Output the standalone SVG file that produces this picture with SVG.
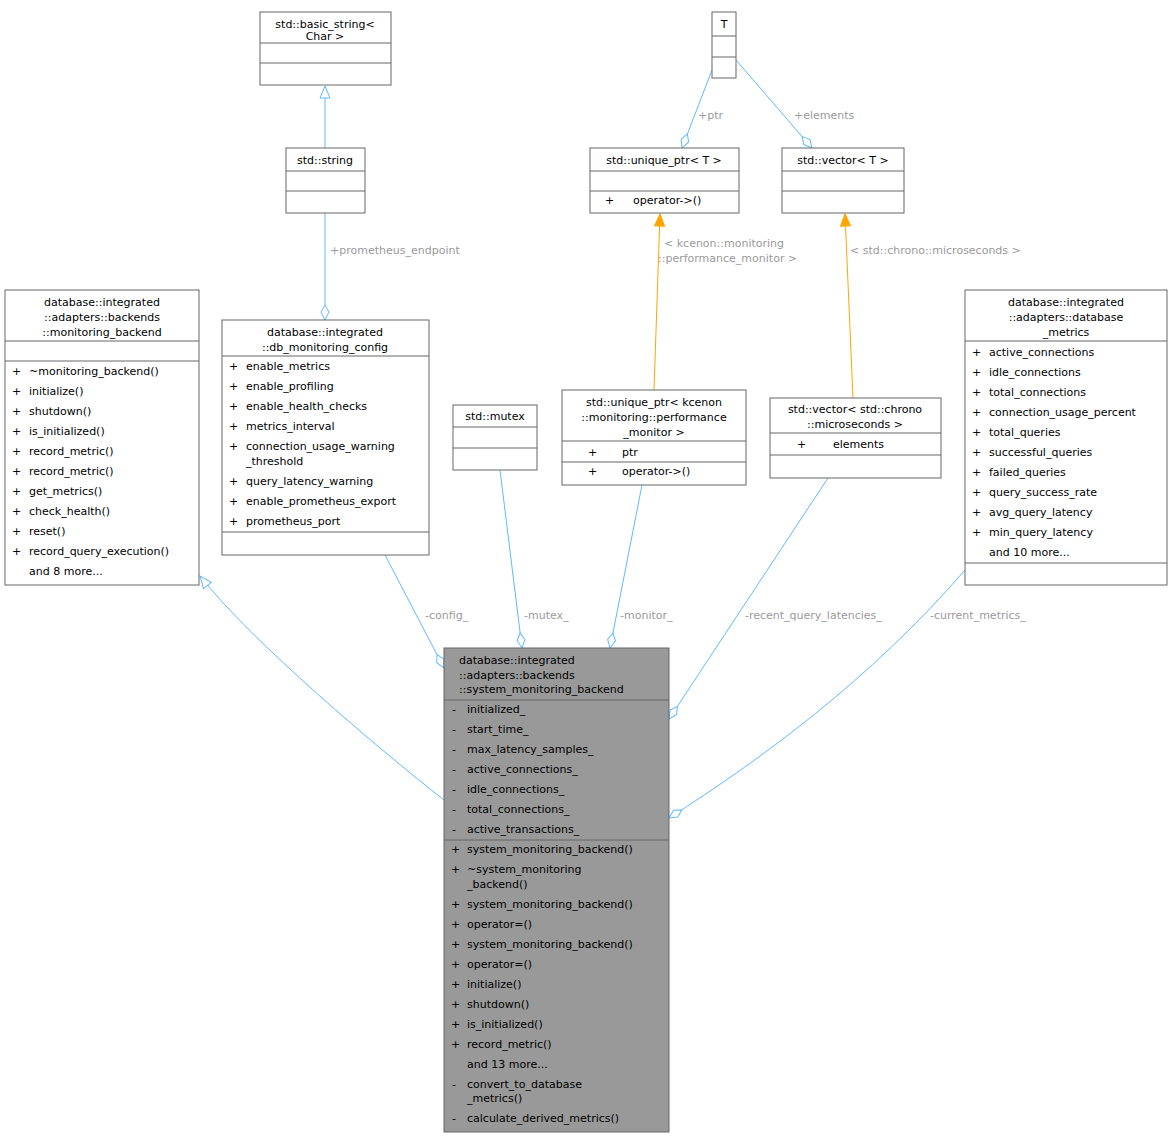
<svg xmlns="http://www.w3.org/2000/svg" width="1172" height="1137" viewBox="0 0 1172 1137">
<defs>
<style>
text{font-family:"DejaVu Sans","Liberation Sans",sans-serif;font-size:11px;fill:#000}
.c{text-anchor:middle}
.n{fill:#fff;stroke:#666;stroke-width:1}
.m{fill:#999;stroke:#666;stroke-width:1}
.s{stroke:#666;stroke-width:1}
.e{fill:none;stroke:#63b8ff;stroke-width:1}
.o{fill:none;stroke:#ffa500;stroke-width:1}
.l{fill:#9a9a9a;font-size:11px}
</style>
<marker id="dia" viewBox="-1 -5 17 10" refX="15" refY="0" markerWidth="17" markerHeight="10" orient="auto" markerUnits="userSpaceOnUse"><path d="M0,0 L7,-4 L15,0 L7,4 Z" fill="#fff" stroke="#63b8ff"/></marker>
<marker id="tri" viewBox="-1 -6 14 12" refX="12" refY="0" markerWidth="14" markerHeight="12" orient="auto" markerUnits="userSpaceOnUse"><path d="M0,-5 L12,0 L0,5 Z" fill="#fff" stroke="#63b8ff"/></marker>
<marker id="arr" viewBox="-1 -6 14 12" refX="12" refY="0" markerWidth="14" markerHeight="12" orient="auto" markerUnits="userSpaceOnUse"><path d="M0,-5 L12,0 L0,5 Z" fill="#ffa500" stroke="#ffa500"/></marker>
</defs>
<g id="edges">
<path class="e" d="M325,148 L325,86" marker-end="url(#tri)"/>
<path class="e" d="M325,213 L325,320" marker-end="url(#dia)"/>
<text class="l" x="330" y="254">+prometheus_endpoint</text>
<path class="e" d="M712,70 L682,148" marker-end="url(#dia)"/>
<text class="l" x="698" y="119">+ptr</text>
<path class="e" d="M736,60 L812,148" marker-end="url(#dia)"/>
<text class="l" x="794" y="119">+elements</text>
<path class="o" d="M654,390 L660,214" marker-end="url(#arr)"/>
<text class="l" x="664" y="247">&lt; kcenon::monitoring</text>
<text class="l" x="658" y="262">::performance_monitor &gt;</text>
<path class="o" d="M853,398 L845,214" marker-end="url(#arr)"/>
<text class="l" x="850" y="254">&lt; std::chrono::microseconds &gt;</text>
<path class="e" d="M444,800 C380,750 250,640 200,576" marker-end="url(#tri)"/>
<path class="e" d="M385,555 L444,668" marker-end="url(#dia)"/>
<text class="l" x="425" y="619">-config_</text>
<path class="e" d="M500,470 L522,648" marker-end="url(#dia)"/>
<text class="l" x="524" y="619">-mutex_</text>
<path class="e" d="M642,485 L610,648" marker-end="url(#dia)"/>
<text class="l" x="620" y="619">-monitor_</text>
<path class="e" d="M828,478 L669,719" marker-end="url(#dia)"/>
<text class="l" x="745" y="619">-recent_query_latencies_</text>
<path class="e" d="M965,570 C870,680 760,760 669,818" marker-end="url(#dia)"/>
<text class="l" x="930" y="619">-current_metrics_</text>
</g>
<g id="basic_string">
<rect class="n" x="260" y="12" width="131" height="73"/>
<text class="c" x="325" y="28">std::basic_string&lt;</text>
<text class="c" x="325" y="40">Char &gt;</text>
<line class="s" x1="260" y1="43" x2="391" y2="43"/><line class="s" x1="260" y1="63" x2="391" y2="63"/>
</g>
<g id="string">
<rect class="n" x="286" y="148" width="79" height="65"/>
<text class="c" x="325" y="164">std::string</text>
<line class="s" x1="286" y1="171" x2="365" y2="171"/><line class="s" x1="286" y1="191" x2="365" y2="191"/>
</g>
<g id="T">
<rect class="n" x="712" y="12" width="24" height="66"/>
<text class="c" x="724" y="28">T</text>
<line class="s" x1="712" y1="36" x2="736" y2="36"/><line class="s" x1="712" y1="57" x2="736" y2="57"/>
</g>
<g id="unique_ptr_T">
<rect class="n" x="590" y="148" width="149" height="65"/>
<text class="c" x="664" y="164">std::unique_ptr&lt; T &gt;</text>
<line class="s" x1="590" y1="171" x2="739" y2="171"/><line class="s" x1="590" y1="191" x2="739" y2="191"/>
<text x="605" y="204">+</text><text x="633" y="204">operator-&gt;()</text>
</g>
<g id="vector_T">
<rect class="n" x="782" y="148" width="122" height="65"/>
<text class="c" x="843" y="164">std::vector&lt; T &gt;</text>
<line class="s" x1="782" y1="171" x2="904" y2="171"/><line class="s" x1="782" y1="191" x2="904" y2="191"/>
</g>
<g id="monitoring_backend">
<rect class="n" x="5" y="290" width="194" height="295"/>
<text class="c" x="102" y="306">database::integrated</text>
<text class="c" x="102" y="321">::adapters::backends</text>
<text class="c" x="102" y="336">::monitoring_backend</text>
<line class="s" x1="5" y1="341" x2="199" y2="341"/><line class="s" x1="5" y1="361" x2="199" y2="361"/>
<text x="12" y="375">+</text><text x="29" y="375">~monitoring_backend()</text>
<text x="12" y="395">+</text><text x="29" y="395">initialize()</text>
<text x="12" y="415">+</text><text x="29" y="415">shutdown()</text>
<text x="12" y="435">+</text><text x="29" y="435">is_initialized()</text>
<text x="12" y="455">+</text><text x="29" y="455">record_metric()</text>
<text x="12" y="475">+</text><text x="29" y="475">record_metric()</text>
<text x="12" y="495">+</text><text x="29" y="495">get_metrics()</text>
<text x="12" y="515">+</text><text x="29" y="515">check_health()</text>
<text x="12" y="535">+</text><text x="29" y="535">reset()</text>
<text x="12" y="555">+</text><text x="29" y="555">record_query_execution()</text>
<text x="29" y="575">and 8 more...</text>
</g>
<g id="db_monitoring_config">
<rect class="n" x="222" y="320" width="207" height="235"/>
<text class="c" x="325" y="336">database::integrated</text>
<text class="c" x="325" y="351">::db_monitoring_config</text>
<line class="s" x1="222" y1="356" x2="429" y2="356"/>
<text x="229" y="370">+</text><text x="246" y="370">enable_metrics</text>
<text x="229" y="390">+</text><text x="246" y="390">enable_profiling</text>
<text x="229" y="410">+</text><text x="246" y="410">enable_health_checks</text>
<text x="229" y="430">+</text><text x="246" y="430">metrics_interval</text>
<text x="229" y="450">+</text><text x="246" y="450">connection_usage_warning</text>
<text x="246" y="465">_threshold</text>
<text x="229" y="485">+</text><text x="246" y="485">query_latency_warning</text>
<text x="229" y="505">+</text><text x="246" y="505">enable_prometheus_export</text>
<text x="229" y="525">+</text><text x="246" y="525">prometheus_port</text>
<line class="s" x1="222" y1="532" x2="429" y2="532"/>
</g>
<g id="mutex">
<rect class="n" x="453" y="405" width="84" height="65"/>
<text class="c" x="495" y="420">std::mutex</text>
<line class="s" x1="453" y1="427" x2="537" y2="427"/><line class="s" x1="453" y1="448" x2="537" y2="448"/>
</g>
<g id="unique_ptr_monitor">
<rect class="n" x="562" y="390" width="184" height="95"/>
<text class="c" x="654" y="406">std::unique_ptr&lt; kcenon</text>
<text class="c" x="654" y="421">::monitoring::performance</text>
<text class="c" x="654" y="436">_monitor &gt;</text>
<line class="s" x1="562" y1="441" x2="746" y2="441"/>
<text x="588" y="456">+</text><text x="622" y="456">ptr</text>
<line class="s" x1="562" y1="462" x2="746" y2="462"/>
<text x="588" y="475">+</text><text x="622" y="475">operator-&gt;()</text>
</g>
<g id="vector_chrono">
<rect class="n" x="770" y="398" width="171" height="80"/>
<text class="c" x="855" y="413">std::vector&lt; std::chrono</text>
<text class="c" x="855" y="428">::microseconds &gt;</text>
<line class="s" x1="770" y1="433" x2="941" y2="433"/>
<text x="797" y="448">+</text><text x="833" y="448">elements</text>
<line class="s" x1="770" y1="455" x2="941" y2="455"/>
</g>
<g id="database_metrics">
<rect class="n" x="965" y="290" width="202" height="295"/>
<text class="c" x="1066" y="306">database::integrated</text>
<text class="c" x="1066" y="321">::adapters::database</text>
<text class="c" x="1066" y="336">_metrics</text>
<line class="s" x1="965" y1="341" x2="1167" y2="341"/>
<text x="972" y="356">+</text><text x="989" y="356">active_connections</text>
<text x="972" y="376">+</text><text x="989" y="376">idle_connections</text>
<text x="972" y="396">+</text><text x="989" y="396">total_connections</text>
<text x="972" y="416">+</text><text x="989" y="416">connection_usage_percent</text>
<text x="972" y="436">+</text><text x="989" y="436">total_queries</text>
<text x="972" y="456">+</text><text x="989" y="456">successful_queries</text>
<text x="972" y="476">+</text><text x="989" y="476">failed_queries</text>
<text x="972" y="496">+</text><text x="989" y="496">query_success_rate</text>
<text x="972" y="516">+</text><text x="989" y="516">avg_query_latency</text>
<text x="972" y="536">+</text><text x="989" y="536">min_query_latency</text>
<text x="989" y="556">and 10 more...</text>
<line class="s" x1="965" y1="563" x2="1167" y2="563"/>
</g>
<g id="system_monitoring_backend">
<rect class="m" x="444" y="648" width="225" height="484"/>
<text x="459" y="664">database::integrated</text>
<text x="459" y="679">::adapters::backends</text>
<text x="459" y="693">::system_monitoring_backend</text>
<line class="s" x1="444" y1="700" x2="669" y2="700"/>
<text x="452" y="713">-</text><text x="467" y="713">initialized_</text>
<text x="452" y="733">-</text><text x="467" y="733">start_time_</text>
<text x="452" y="753">-</text><text x="467" y="753">max_latency_samples_</text>
<text x="452" y="773">-</text><text x="467" y="773">active_connections_</text>
<text x="452" y="793">-</text><text x="467" y="793">idle_connections_</text>
<text x="452" y="813">-</text><text x="467" y="813">total_connections_</text>
<text x="452" y="833">-</text><text x="467" y="833">active_transactions_</text>
<line class="s" x1="444" y1="840" x2="669" y2="840"/>
<text x="451" y="853">+</text><text x="467" y="853">system_monitoring_backend()</text>
<text x="451" y="873">+</text><text x="467" y="873">~system_monitoring</text>
<text x="467" y="888">_backend()</text>
<text x="451" y="908">+</text><text x="467" y="908">system_monitoring_backend()</text>
<text x="451" y="928">+</text><text x="467" y="928">operator=()</text>
<text x="451" y="948">+</text><text x="467" y="948">system_monitoring_backend()</text>
<text x="451" y="968">+</text><text x="467" y="968">operator=()</text>
<text x="451" y="988">+</text><text x="467" y="988">initialize()</text>
<text x="451" y="1008">+</text><text x="467" y="1008">shutdown()</text>
<text x="451" y="1028">+</text><text x="467" y="1028">is_initialized()</text>
<text x="451" y="1048">+</text><text x="467" y="1048">record_metric()</text>
<text x="467" y="1068">and 13 more...</text>
<text x="452" y="1088">-</text><text x="467" y="1088">convert_to_database</text>
<text x="467" y="1102">_metrics()</text>
<text x="452" y="1122">-</text><text x="467" y="1122">calculate_derived_metrics()</text>
</g>
</svg>
